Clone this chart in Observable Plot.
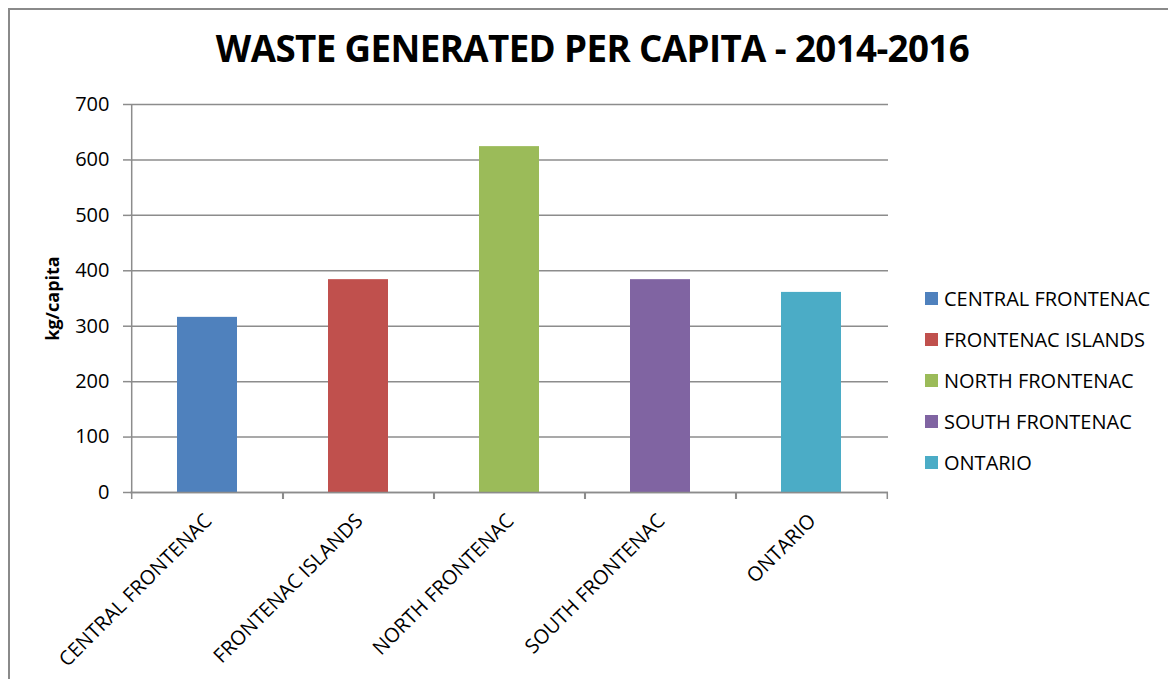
<!DOCTYPE html>
<html>
<head>
<meta charset="utf-8">
<script src="https://cdn.jsdelivr.net/npm/d3@7"></script>
<script src="https://cdn.jsdelivr.net/npm/@observablehq/plot@0.6"></script>
<style>
  html, body { margin: 0; padding: 0; background: #fff; }
  #wrap { position: relative; width: 1168px; height: 679px; overflow: hidden; font-family: "Open Sans", sans-serif; }
  #frame { position: absolute; left: 8px; top: 8px; width: 1200px; height: 700px; border-left: 2px solid #8a8a8a; border-top: 2px solid #8a8a8a; box-sizing: border-box; }
  #title { position: absolute; left: 0; width: 1185px; top: 23px; text-align: center; font-weight: 700; font-size: 36.7px; letter-spacing: -0.6px; color: #000; white-space: nowrap; }
  #chart { position: absolute; left: 0; top: 0; }
  #legend { position: absolute; left: 925px; top: 278px; }
  .row { display: flex; align-items: center; height: 41px; font-size: 20px; color: #000; white-space: nowrap; }
  .sw { width: 13px; height: 13px; margin-right: 6px; }
</style>
</head>
<body>
<div id="wrap">
  <div id="frame"></div>
  <div id="chart"></div>
  <div id="title"></div>
  <div id="legend"></div>
</div>
<script>
const titleText = "WASTE GENERATED PER CAPITA - 2014-2016";
const yLabel = "kg/capita";
const categories = ["CENTRAL FRONTENAC", "FRONTENAC ISLANDS", "NORTH FRONTENAC", "SOUTH FRONTENAC", "ONTARIO"];
const values = [316, 384, 624, 384, 361];
const colors = ["#4F81BD", "#C0504D", "#9BBB59", "#8064A2", "#4BACC6"];
const yTicks = [0, 100, 200, 300, 400, 500, 600, 700];

const data = categories.map((c, i) => ({category: c, value: values[i]}));

const W = 1168, H = 679;
const mL = 130, mR = W - 888, mT = 104, mB = H - 492;
const step = (W - mL - mR) / categories.length;

const chart = Plot.plot({
  width: W,
  height: H,
  marginLeft: mL,
  marginRight: mR,
  marginTop: mT,
  marginBottom: mB,
  style: {fontFamily: "Open Sans, sans-serif", background: "transparent", overflow: "visible"},
  x: {domain: categories, paddingInner: 0.6, paddingOuter: 0.3, label: null},
  y: {domain: [0, 700], label: null},
  color: {domain: categories, range: colors},
  marks: [
    Plot.gridY(yTicks, {stroke: "#8c8c8c", strokeOpacity: 1, strokeWidth: 1.5}),
    Plot.barY(data, {x: "category", y: "value", fill: "category"}),
    Plot.axisY({ticks: yTicks, tickSize: 7, tickPadding: 14, fontSize: 20, stroke: "#8c8c8c", strokeWidth: 1.5, color: "#000", label: null}),
    Plot.axisX({tickSize: 7, dx: -step / 2, text: null, stroke: "#8c8c8c", strokeWidth: 1.5, label: null}),
    Plot.axisX({tickSize: 7, dx: step / 2, text: null, stroke: "#8c8c8c", strokeWidth: 1.5, label: null}),
    Plot.axisX({tickSize: 0, tickPadding: 25, tickRotate: -45, fontSize: 20, dx: 1, color: "#000", label: null}),
    Plot.ruleX([0], {x: () => categories[0], dx: -step / 2, y1: 0, y2: 700, stroke: "#8c8c8c", strokeWidth: 1.5}),
    Plot.ruleY([0], {stroke: "#8c8c8c", strokeWidth: 1.5}),
    Plot.text([yLabel], {text: d => d, frameAnchor: "left", textAnchor: "middle", dx: -77, rotate: -90, fontSize: 18, fontWeight: "bold", fill: "#000"})
  ]
});
document.getElementById("chart").appendChild(chart);
document.getElementById("title").textContent = titleText;

const legend = document.getElementById("legend");
categories.forEach((c, i) => {
  const row = document.createElement("div");
  row.className = "row";
  const sw = document.createElement("div");
  sw.className = "sw";
  sw.style.background = colors[i];
  const t = document.createElement("span");
  t.textContent = c;
  row.appendChild(sw);
  row.appendChild(t);
  legend.appendChild(row);
});
</script>
</body>
</html>
